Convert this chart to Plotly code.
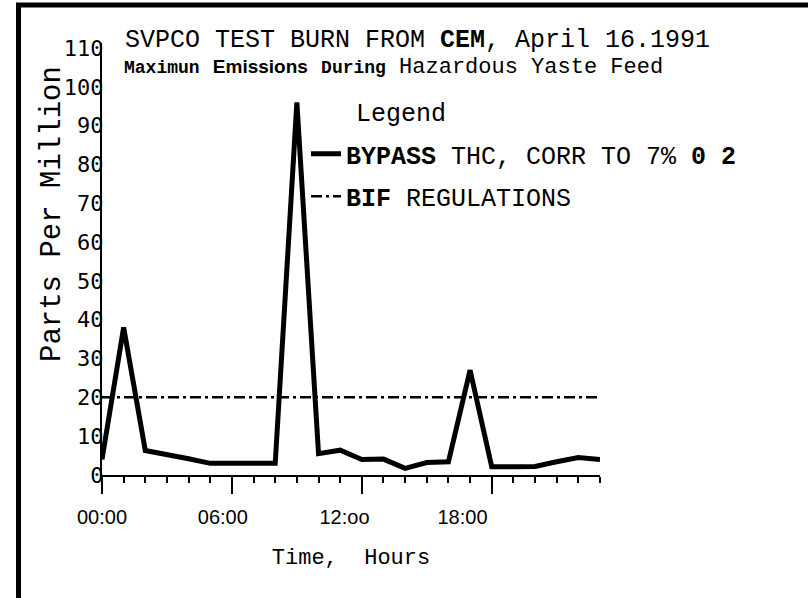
import plotly.graph_objects as go

# ---- data ----
hours = list(range(24))
bypass_thc = [4, 38, 6.3, 5.4, 4.2, 3.0, 3.0, 3.0, 3.0, 96, 5.5, 6.4,
              4.0, 4.1, 1.7, 3.2, 3.4, 27, 2.1, 2.1, 2.2, 3.4, 4.5, 4.0]
reg_hours = [0, 23]
reg_values = [20, 20]
x_tick_vals = [0, 6, 12, 18]
x_tick_text = ["00:00", "06:00", "12:oo", "18:00"]
y_tick_vals = list(range(0, 111, 10))
y_tick_text = [str(v) for v in y_tick_vals]

# ---- layout geometry (pixels) ----
W, H = 808, 598
L, R, T, B = 102, 600, 43, 475


def px_x(px):
    return (px - L) / (R - L)


def px_y(py):
    return (B - py) / (B - T)


MONO = "Liberation Mono"

fig = go.Figure()
fig.add_trace(go.Scatter(
    x=hours, y=bypass_thc, mode="lines",
    line=dict(color="black", width=5),
    name="<b>BYPASS</b> THC, CORR TO 7% <b>0 2</b>",
    legendgroup="a",
))
fig.add_trace(go.Scatter(
    x=reg_hours, y=reg_values, mode="lines",
    line=dict(color="black", width=2.5, dash="11px,4px,3px,4px"),
    name="<b>BIF</b> REGULATIONS",
    legendgroup="b",
))

# label axis (labels sit slightly left of the major ticks in the original)
label_pos = [0, 5.58, 11.2, 16.65]
fig.add_trace(go.Scatter(x=[0, 23], y=[0, 0], xaxis="x2", mode="none",
                         showlegend=False, hoverinfo="skip"))

fig.update_layout(
    width=W, height=H,
    margin=dict(l=L, r=W - R, t=T, b=H - B, pad=0),
    paper_bgcolor="white", plot_bgcolor="white",
    showlegend=True,
    font=dict(family=MONO, color="black"),
    xaxis=dict(
        range=[0, 23], showgrid=False, zeroline=False,
        showline=True, linecolor="black", linewidth=2,
        tickvals=x_tick_vals, ticktext=x_tick_text, showticklabels=False,
        ticks="outside", ticklen=17, tickwidth=2, tickcolor="black",
        minor=dict(dtick=1, tick0=0, ticks="outside", ticklen=6,
                   tickwidth=1.5, tickcolor="black", showgrid=False),
        title=dict(text="Time,  Hours", font=dict(family=MONO, size=22),
                   standoff=56),
    ),
    xaxis2=dict(
        range=[0, 23], overlaying="x", side="bottom", showgrid=False,
        zeroline=False, showline=False, ticks="",
        tickvals=label_pos, ticktext=x_tick_text,
        tickfont=dict(family="Liberation Sans", size=20),
        ticklabelstandoff=28,
    ),
    yaxis=dict(
        range=[0, 111.3], showgrid=False, zeroline=False,
        showline=True, linecolor="black", linewidth=2,
        tickvals=y_tick_vals, ticktext=y_tick_text, ticks="",
        tickfont=dict(family="DejaVu Sans Mono", size=22),
        ticklabelstandoff=-8,
    ),
    legend=dict(
        x=px_x(306), y=px_y(131), xanchor="left", yanchor="top",
        bgcolor="rgba(0,0,0,0)", borderwidth=0,
        font=dict(family=MONO, size=25, color="black"),
        tracegroupgap=7, traceorder="grouped",
    ),
)

title1 = ("SVPCO TEST BURN FROM <b>CEM</b>, April 16.1991")
title2 = ("<span style='font-family:Liberation Mono;font-size:18px'><b>Maximun</b></span> "
          "<span style='font-family:Liberation Sans;font-size:19px'><b>Emissions</b></span> "
          "<span style='font-family:Liberation Mono;font-size:18px'><b>During</b></span> "
          "Hazardous Yaste Feed")

fig.add_annotation(text=title1, xref="paper", yref="paper",
                   x=px_x(123), y=px_y(40), xanchor="left", yanchor="middle",
                   showarrow=False, font=dict(family=MONO, size=25))
fig.add_annotation(text=title2, xref="paper", yref="paper",
                   x=px_x(122), y=px_y(67), xanchor="left", yanchor="middle",
                   showarrow=False, font=dict(family=MONO, size=22))
fig.add_annotation(text="Legend", xref="paper", yref="paper",
                   x=px_x(354), y=px_y(115), xanchor="left", yanchor="middle",
                   showarrow=False, font=dict(family=MONO, size=25))
fig.add_annotation(text="Parts Per Million", xref="paper", yref="paper",
                   x=px_x(52), y=px_y(214), xanchor="center", yanchor="middle",
                   textangle=-90, showarrow=False,
                   font=dict(family=MONO, size=29))

# scan frame (top and left edges)
fig.add_shape(type="line", xref="paper", yref="paper",
              x0=px_x(16), x1=px_x(W + 5), y0=px_y(5), y1=px_y(5),
              line=dict(color="black", width=5))
fig.add_shape(type="line", xref="paper", yref="paper",
              x0=px_x(18.5), x1=px_x(18.5), y0=px_y(3), y1=px_y(H + 5),
              line=dict(color="black", width=5))

fig.write_html("out.html", config={"displayModeBar": False},
               post_script="document.body.style.margin='0';")
